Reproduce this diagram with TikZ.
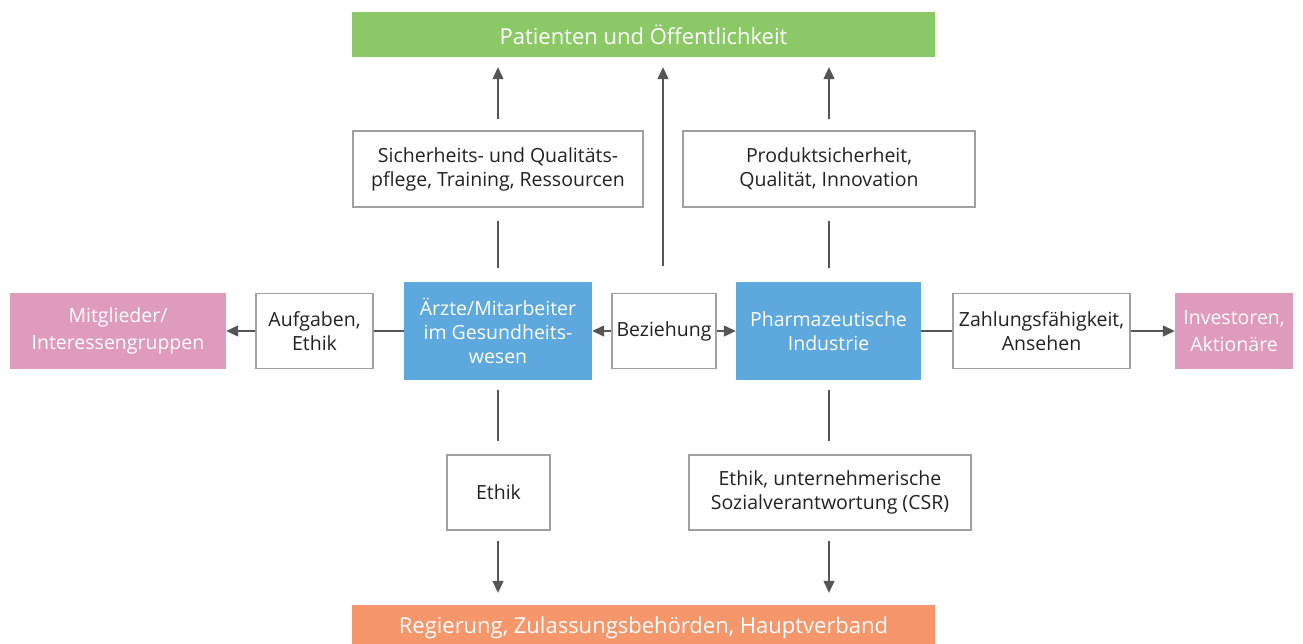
\documentclass[tikz,border=0pt]{standalone}
\usepackage{fontspec}
\setmainfont{Open Sans}
\usetikzlibrary{arrows.meta}
\definecolor{cgreen}{HTML}{8BC866}
\definecolor{cblue}{HTML}{5DA8DC}
\definecolor{cpink}{HTML}{DE9BBB}
\definecolor{corange}{HTML}{F5966B}
\definecolor{cbord}{HTML}{A0A0A0}
\definecolor{cline}{HTML}{555555}
\definecolor{ctext}{HTML}{222222}
\tikzset{
  base/.style={inner sep=0pt, align=center, font=\fontsize{19.5}{24}\selectfont},
  wbox/.style={base, draw=cbord, line width=1.3pt, fill=white, text=ctext},
  cbox/.style={base, text=white},
  bar/.style={base, text=white, font=\fontsize{22}{24}\selectfont},
  conn/.style={draw=cline, line width=1.3pt},
  arr/.style={conn, -{Triangle[length=12pt,width=11pt]}},
}
\begin{document}
\begin{tikzpicture}[x=1pt,y=-1pt]
\clip (0,0) rectangle (1303,643);
\fill[white] (0,0) rectangle (1303,643);
% bars
\node[bar, fill=cgreen, minimum width=583pt, minimum height=45pt] (pat) at (643.5,34.5) {Patienten und Öffentlichkeit};
\node[bar, fill=corange, minimum width=583pt, minimum height=45pt] (reg) at (643.5,627.5) {Regierung, Zulassungsbehörden, Hauptverband};
% upper white boxes
\node[wbox, minimum width=290pt, minimum height=76pt] (sich) at (498,169) {Sicherheits- und Qualitäts-\\pflege, Training, Ressourcen};
\node[wbox, minimum width=292pt, minimum height=76pt] (prod) at (829,169) {Produktsicherheit,\\Qualität, Innovation};
% middle row
\node[cbox, fill=cpink, minimum width=216pt, minimum height=76pt, font=\fontsize{19.5}{27}\selectfont] (mit) at (118,331) {Mitglieder/\\Interessengruppen};
\node[wbox, minimum width=117pt, minimum height=75pt] (auf) at (314.5,331) {Aufgaben,\\Ethik};
\node[cbox, fill=cblue, minimum width=188pt, minimum height=98pt] (arz) at (498,331) {Ärzte/Mitarbeiter\\im Gesundheits-\\wesen};
\node[wbox, minimum width=104pt, minimum height=75pt] (bez) at (664,331) {Beziehung};
\node[cbox, fill=cblue, minimum width=185pt, minimum height=98pt] (pha) at (828.5,331) {Pharmazeutische\\Industrie};
\node[wbox, minimum width=177pt, minimum height=75pt] (zah) at (1041.5,331) {Zahlungsfähigkeit,\\Ansehen};
\node[cbox, fill=cpink, minimum width=118pt, minimum height=76pt, font=\fontsize{19.5}{27}\selectfont] (inv) at (1234,331) {Investoren,\\Aktionäre};
% lower white boxes
\node[wbox, minimum width=103pt, minimum height=75pt] (eth) at (498.5,492.5) {Ethik};
\node[wbox, minimum width=282pt, minimum height=75pt] (csr) at (830,492.5) {Ethik, unternehmerische\\Sozialverantwortung (CSR)};
% connectors up
\draw[arr, shorten <=11pt, shorten >=10pt] (sich.north) -- (pat.south -| sich.north);
\draw[arr, shorten <=11pt, shorten >=10pt] (prod.north) -- (pat.south -| prod.north);
\draw[arr, shorten <=27pt, shorten >=10pt] (bez.north -| 663,0) -- (pat.south -| 663,0);
\draw[conn, shorten <=14pt, shorten >=13pt] (arz.north) -- (sich.south);
\draw[conn, shorten <=14pt, shorten >=13pt] (pha.north -| prod.south) -- (prod.south);
% horizontal
\draw[conn] (arz.west) -- (auf.east);
\draw[arr] (auf.west) -- (mit.east);
\draw[arr] (bez.west) -- (arz.east);
\draw[arr] (bez.east) -- (pha.west);
\draw[conn] (pha.east) -- (zah.west);
\draw[arr] (zah.east) -- (inv.west);
% down
\draw[conn, shorten <=10pt, shorten >=13pt] (arz.south) -- (eth.north -| arz.south);
\draw[conn, shorten <=10pt, shorten >=13pt] (pha.south -| 829,0) -- (csr.north -| 829,0);
\draw[arr, shorten <=10pt, shorten >=12pt] (eth.south -| arz.south) -- (reg.north -| arz.south);
\draw[arr, shorten <=10pt, shorten >=12pt] (csr.south -| 829,0) -- (reg.north -| 829,0);
\end{tikzpicture}
\end{document}
